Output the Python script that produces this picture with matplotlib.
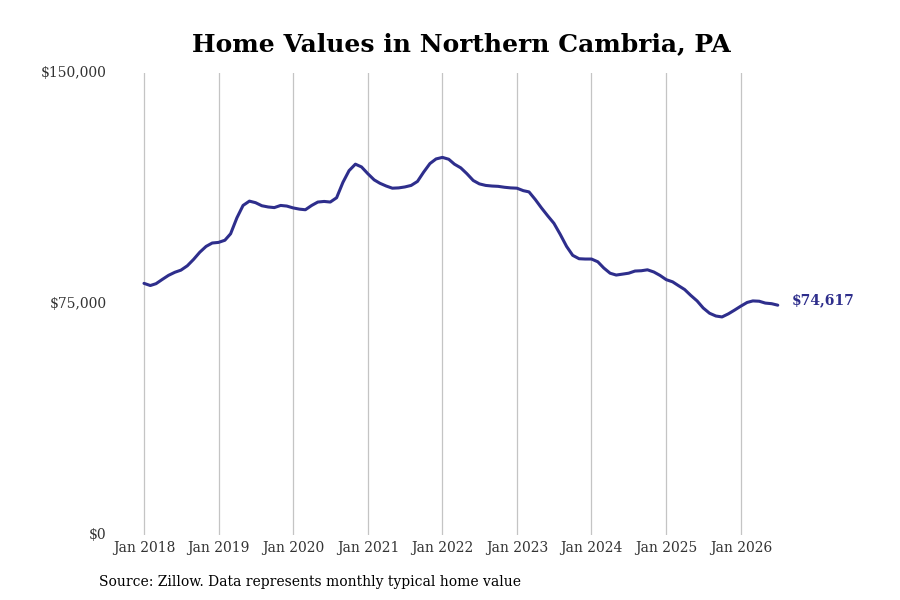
import numpy as np
import pandas as pd
import matplotlib
matplotlib.use('Agg')
import matplotlib.pyplot as plt
import matplotlib.dates as mdates
from matplotlib.ticker import FuncFormatter

# monthly typical home value, Jan 2018 - Jul 2026
values_2018 = [81700, 81000, 81600, 83000, 84300, 85300, 86000, 87400, 89500, 91800, 93700, 94800]
values_2019 = [95000, 95700, 97800, 103000, 107000, 108400, 107900, 106900, 106500, 106300, 107000, 106800]
values_2020 = [106200, 105800, 105600, 107000, 108100, 108300, 108100, 109500, 114500, 118300, 120400, 119500]
values_2021 = [117300, 115300, 114200, 113300, 112600, 112700, 113000, 113500, 114800, 117800, 120600, 122100]
values_2022 = [122600, 122000, 120400, 119200, 117300, 115100, 114000, 113500, 113300, 113200, 112900, 112700]
values_2023 = [112600, 111800, 111400, 108900, 106200, 103600, 101200, 97600, 93700, 90800, 89700, 89600]
values_2024 = [89600, 88700, 86700, 85000, 84400, 84700, 85000, 85700, 85800, 86100, 85400, 84300]
values_2025 = [82900, 82200, 81000, 79700, 77800, 76000, 73700, 72000, 71100, 70800, 71800, 73000]
values_2026 = [74300, 75500, 76000, 75900, 75300, 75100, 74617]

values = (values_2018 + values_2019 + values_2020 + values_2021 + values_2022
          + values_2023 + values_2024 + values_2025 + values_2026)
dates = pd.date_range('2018-01-01', periods=len(values), freq='MS')

tick_years = list(range(2018, 2027))
tick_labels = ['Jan {}'.format(y) for y in tick_years]
y_ticks = [0, 75000, 150000]

line_color = '#2e2e8c'

plt.rcParams['font.family'] = 'DejaVu Serif'

fig = plt.figure(figsize=(9, 6), dpi=100)
ax = fig.add_axes([115 / 900, 1 - 535 / 600, 745 / 900, 462 / 600])

ax.plot(dates, values, color=line_color, linewidth=2.2, solid_capstyle='round')

d0 = mdates.date2num(pd.Timestamp('2018-01-01'))
days_per_px = 365.25 / 74.6
ax.set_xlim(d0 - 29 * days_per_px, d0 + 716 * days_per_px)
ax.set_ylim(0, 150000)

ax.set_xticks([pd.Timestamp('{}-01-01'.format(y)) for y in tick_years])
ax.set_xticklabels(tick_labels)
ax.set_yticks(y_ticks)
ax.yaxis.set_major_formatter(FuncFormatter(lambda v, p: '${:,.0f}'.format(v)))

ax.tick_params(axis='both', length=0, labelsize=10, colors='#333333')
ax.tick_params(axis='x', pad=4)
ax.tick_params(axis='y', pad=6)
for lbl in ax.get_yticklabels():
    lbl.set_verticalalignment('center')

ax.grid(axis='x', color='#c4c4c4', linewidth=0.9)
ax.grid(axis='y', visible=False)
for s in ax.spines.values():
    s.set_visible(False)

ax.annotate('${:,}'.format(values[-1]), xy=(dates[-1], values[-1]), xytext=(10, 3.5),
            textcoords='offset points', color=line_color, fontsize=10,
            fontweight='bold', va='center', ha='left')

fig.text(461 / 900, 1 - 44 / 600, 'Home Values in Northern Cambria, PA',
         ha='center', va='center', fontsize=18, fontweight='bold')
fig.text(99 / 900, 1 - 582 / 600, 'Source: Zillow. Data represents monthly typical home value',
         ha='left', va='center', fontsize=10)

fig.savefig('out.png', dpi=100)
